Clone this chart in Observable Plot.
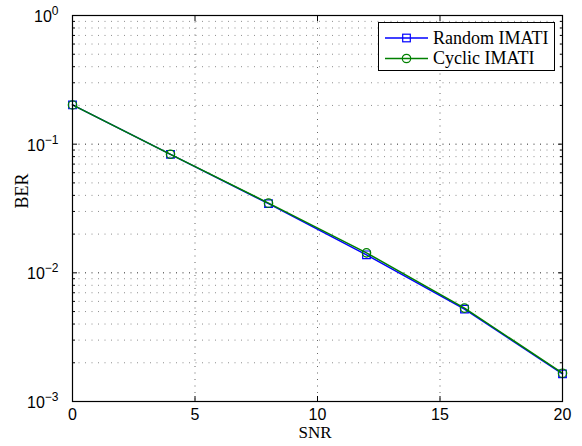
<!DOCTYPE html>
<html>
<head>
<meta charset="utf-8">
<script src="https://cdn.jsdelivr.net/npm/d3@7"></script>
<script src="https://cdn.jsdelivr.net/npm/@observablehq/plot@0.6"></script>
<style>
  html, body { margin: 0; padding: 0; background: white; }
</style>
</head>
<body>
<div id="chart"></div>
<script>
// ---- data ----
const snr = [0, 4, 8, 12, 16, 20];
const berRandom = [0.2018, 0.0834, 0.0345, 0.0138, 0.00522, 0.00164];
const berCyclic = [0.2018, 0.0834, 0.0348, 0.0143, 0.00532, 0.00166];
const seriesNames = ["Random IMATI", "Cyclic IMATI"];
const xTicks = [0, 5, 10, 15, 20];
const yExponents = [-3, -2, -1, 0];
const xLabel = "SNR";
const yLabel = "BER";

// ---- derived tables ----
const rows = snr.map((s, i) => ({snr: s, random: berRandom[i], cyclic: berCyclic[i]}));
const yMajor = yExponents.map(e => Math.pow(10, e));
const yMinor = [];
yExponents.slice(0, -1).forEach(e => { for (let k = 2; k <= 9; k++) yMinor.push(k * Math.pow(10, e)); });
const xInner = xTicks.slice(1, -1);
const yMajorInner = yMajor.slice(1, -1);

const sans = "'Liberation Sans', Arial, Helvetica, sans-serif";
const serif = "'Liberation Serif', 'Times New Roman', serif";
const blue = "#0000ff", green = "#008000";
const dash = "1,5.5";
const noText = () => "";

const chart = Plot.plot({
  width: 582,
  height: 446,
  marginLeft: 72,
  marginRight: 20,
  marginTop: 15,
  marginBottom: 45,
  style: {background: "white", fontFamily: sans, fontSize: "16px", color: "black"},
  x: {domain: [0, 20]},
  y: {type: "log", domain: [1e-3, 1]},
  marks: [
    Plot.gridY(yMinor, {stroke: "#000", strokeOpacity: 0.45, strokeDasharray: dash}),
    Plot.gridY(yMajorInner, {stroke: "#000", strokeOpacity: 0.85, strokeDasharray: dash}),
    Plot.gridX(xInner, {stroke: "#000", strokeOpacity: 0.6, strokeDasharray: dash}),
    Plot.line(rows, {x: "snr", y: "random", stroke: blue, strokeWidth: 1.5}),
    Plot.dot(rows, {x: "snr", y: "random", symbol: "square", r: 4.3, stroke: blue, strokeWidth: 1.2, fill: "none"}),
    Plot.line(rows, {x: "snr", y: "cyclic", stroke: green, strokeWidth: 1.5}),
    Plot.dot(rows, {x: "snr", y: "cyclic", symbol: "circle", r: 4.2, stroke: green, strokeWidth: 1.2, fill: "none"}),
    Plot.frame({stroke: "black", strokeWidth: 1.2}),
    // inward ticks (shifted into the frame)
    Plot.axisX({ticks: xTicks, anchor: "bottom", tickSize: 5, dy: -5, tickFormat: noText, label: null}),
    Plot.axisX({ticks: xTicks, anchor: "top", tickSize: 5, dy: 5, tickFormat: noText, label: null}),
    Plot.axisY({ticks: yMajor, anchor: "left", tickSize: 5, dx: 5, tickFormat: noText, label: null}),
    Plot.axisY({ticks: yMajor, anchor: "right", tickSize: 5, dx: -5, tickFormat: noText, label: null}),
    Plot.axisY({ticks: yMinor, anchor: "left", tickSize: 3, dx: 3, tickFormat: noText, label: null}),
    Plot.axisY({ticks: yMinor, anchor: "right", tickSize: 3, dx: -3, tickFormat: noText, label: null}),
    // tick labels
    Plot.axisX({ticks: xTicks, anchor: "bottom", tickSize: 0, tickPadding: 7, label: null, fontSize: 16, fontFamily: sans}),
    Plot.axisY({ticks: yMajor, anchor: "left", tickSize: 0, tickPadding: 14, dy: 1.5, label: null,
      tickFormat: d => "10^" + Math.round(Math.log10(d)), fontSize: 16, fontFamily: sans}),
    // axis titles
    Plot.text([xLabel], {text: d => d, frameAnchor: "bottom", dy: 36.5, dx: -2.5, fontFamily: serif, fontSize: 17}),
    Plot.text([yLabel], {text: d => d, frameAnchor: "left", dx: -50.5, rotate: -90, fontFamily: serif, fontSize: 18})
  ]
});

// superscript exponents on y tick labels
d3.select(chart).selectAll("text").each(function() {
  const t = this.textContent;
  const m = /^10\^(-?\d+)$/.exec(t);
  if (!m) return;
  const sel = d3.select(this);
  sel.text(null);
  sel.append("tspan").text("10");
  sel.append("tspan").attr("dy", "-7").attr("font-size", 12).text(m[1].replace("-", "\u2212"));
});

// legend box (top-right inside plot area)
const svg = d3.select(chart);
const lg = svg.append("g").attr("class", "legend").attr("text-anchor", "start");
lg.append("rect").attr("x", 378.5).attr("y", 22.5).attr("width", 176).attr("height", 48)
  .attr("fill", "white").attr("stroke", "black").attr("stroke-width", 1);
const legendItems = [
  {name: seriesNames[0], color: blue, sym: "square", y: 38},
  {name: seriesNames[1], color: green, sym: "circle", y: 58.5}
];
legendItems.forEach(it => {
  lg.append("line").attr("x1", 385).attr("x2", 428).attr("y1", it.y).attr("y2", it.y)
    .attr("stroke", it.color).attr("stroke-width", 1.5);
  if (it.sym === "square") {
    lg.append("rect").attr("x", 406.5 - 3.8).attr("y", it.y - 3.8).attr("width", 7.6).attr("height", 7.6)
      .attr("fill", "none").attr("stroke", it.color).attr("stroke-width", 1.2);
  } else {
    lg.append("circle").attr("cx", 406.5).attr("cy", it.y).attr("r", 4.2)
      .attr("fill", "none").attr("stroke", it.color).attr("stroke-width", 1.2);
  }
  lg.append("text").attr("x", 433).attr("y", it.y + 5.5).attr("text-anchor", "start")
    .attr("font-family", serif).attr("font-size", 18).attr("fill", "black").text(it.name);
});

document.getElementById("chart").appendChild(chart);
</script>
</body>
</html>
